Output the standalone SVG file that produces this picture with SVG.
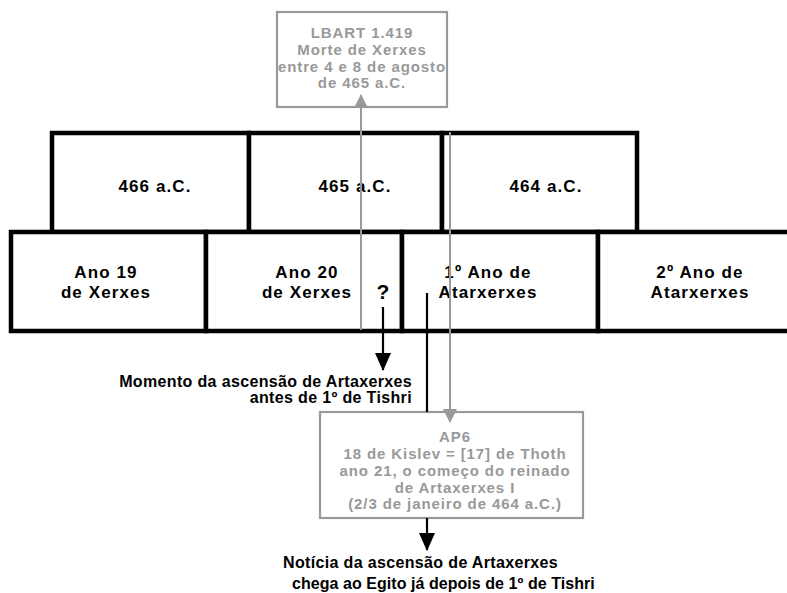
<svg xmlns="http://www.w3.org/2000/svg" width="787" height="593" viewBox="0 0 787 593">
<style>
.cell{fill:#fff;stroke:#000;stroke-width:4.5}
.gbox{fill:#fff;stroke:#999;stroke-width:2.2}
.t{font-family:"Liberation Sans",Arial,sans-serif;font-weight:bold;font-size:17px;letter-spacing:1.1px;fill:#000;text-anchor:middle}
.g{font-family:"Liberation Sans",Arial,sans-serif;font-weight:bold;font-size:15px;letter-spacing:0.9px;fill:#999;text-anchor:middle}
.n{font-family:"Liberation Sans",Arial,sans-serif;font-weight:bold;font-size:16px;letter-spacing:0.35px;fill:#000}
.gl{stroke:#999;stroke-width:2;fill:none}
.bl{stroke:#000;stroke-width:2.2;fill:none}
</style>
<defs>
<marker id="ag" markerWidth="14" markerHeight="14" refX="13" refY="7" orient="auto" markerUnits="userSpaceOnUse"><path d="M0,0 L14,7 L0,14 z" fill="#999"/></marker>
<marker id="ab" markerWidth="18" markerHeight="16" refX="17" refY="8" orient="auto" markerUnits="userSpaceOnUse"><path d="M0,0 L18,8 L0,16 z" fill="#000"/></marker>
</defs>
<g id="year466"><rect class="cell" x="52" y="133" width="197" height="99"/><text class="t" x="155" y="192">466 a.C.</text></g>
<g id="year465"><rect class="cell" x="249" y="133" width="193" height="99"/><text class="t" x="355" y="192">465 a.C.</text></g>
<g id="year464"><rect class="cell" x="442" y="133" width="195" height="99"/><text class="t" x="546" y="192">464 a.C.</text></g>
<g id="ano19"><rect class="cell" x="11" y="232" width="195" height="99"/><text class="t" x="106" y="278">Ano 19</text><text class="t" x="106" y="298">de Xerxes</text></g>
<g id="ano20"><rect class="cell" x="206" y="232" width="196" height="99"/><text class="t" x="307" y="278">Ano 20</text><text class="t" x="307" y="298">de Xerxes</text><text class="t" x="383" y="299" style="font-size:21px;letter-spacing:0">?</text></g>
<g id="ano1art"><rect class="cell" x="402" y="232" width="196" height="99"/><text class="t" x="488" y="278">1º Ano de</text><text class="t" x="488" y="298">Atarxerxes</text></g>
<g id="ano2art"><path class="cell" d="M800,232 H598 V331 H800"/><text class="t" x="700" y="278">2º Ano de</text><text class="t" x="700" y="298">Atarxerxes</text></g>
<g id="lbart"><rect class="gbox" x="277" y="12" width="170" height="95"/><text class="g" x="362" y="38">LBART 1.419</text><text class="g" x="362" y="55">Morte de Xerxes</text><text class="g" x="362" y="72">entre 4 e 8 de agosto</text><text class="g" x="362" y="88">de 465 a.C.</text></g>
<g id="ap6"><rect class="gbox" x="320" y="412" width="263" height="106"/><text class="g" x="455" y="442">AP6</text><text class="g" x="455" y="459">18 de Kislev = [17] de Thoth</text><text class="g" x="455" y="476">ano 21, o começo do reinado</text><text class="g" x="455" y="493">de Artaxerxes I</text><text class="g" x="455" y="509">(2/3 de janeiro de 464 a.C.)</text></g>
<g id="labels"><text class="n" x="412" y="387" text-anchor="end">Momento da ascensão de Artaxerxes</text><text class="n" x="412" y="403" text-anchor="end">antes de 1º de Tishri</text><text class="n" x="283" y="568">Notícia da ascensão de Artaxerxes</text><text class="n" x="292" y="589" style="letter-spacing:0.05px">chega ao Egito já depois de 1º de Tishri</text></g>
<g id="connectors">
<line class="gl" x1="361" y1="330" x2="361" y2="95" marker-end="url(#ag)"/>
<line class="gl" x1="450" y1="132" x2="450" y2="422" marker-end="url(#ag)"/>
<line class="bl" x1="383" y1="307" x2="383" y2="370" marker-end="url(#ab)"/>
<line class="bl" x1="427" y1="293" x2="427" y2="412"/>
<line class="bl" x1="427" y1="518" x2="427" y2="550" marker-end="url(#ab)"/>
</g>
</svg>
